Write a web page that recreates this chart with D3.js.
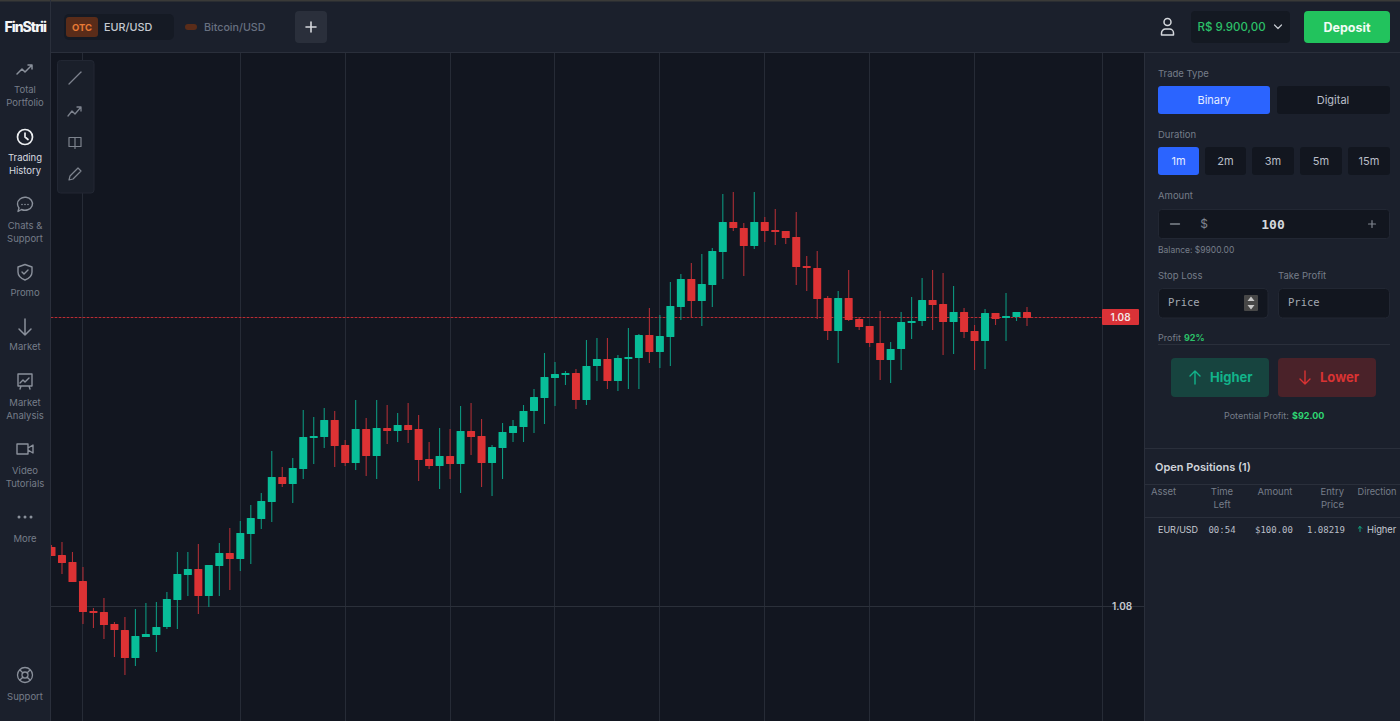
<!DOCTYPE html>
<html><head><meta charset="utf-8">
<script src="https://cdn.jsdelivr.net/npm/d3@7"></script>
<style>html,body{margin:0;padding:0;background:#121620;overflow:hidden}svg{display:block}text{font-family:Inter,"Noto Sans",sans-serif}</style>
</head><body><svg id="c" width="1400" height="721"></svg>
<script>
// Prices are given as points above 1.08000 (1 point = 0.00001)
const opens=[59,51,44,25,-5,-6,-18,-24,-52,-31,-29,-21,6,31,37,10,40,53,47,72,87,104,129,122,137,168,169,186,161,143,177,150,178,175,181,177,147,140,150,142,175,170,143,158,173,179,195,208,228,231,233,206,240,247,225,247,248,271,254,269,299,327,305,321,354,384,378,360,384,376,375,369,340,338,308,275,308,287,280,263,246,257,283,285,306,302,284,294,275,265,293,288,289,294];
const highs=[61,64,54,39,-2,8,-16,-11,-3,3,4,14,54,54,62,41,63,78,85,101,113,155,139,148,196,189,198,195,166,206,188,206,201,193,203,191,164,178,177,200,203,187,161,183,186,201,217,253,244,235,237,266,268,268,251,278,272,298,291,324,332,343,352,358,412,414,383,414,389,397,375,394,350,355,310,315,336,289,280,295,264,294,309,328,336,333,320,298,281,297,293,313,294,299];
const lows=[50,32,24,-18,-22,-33,-51,-69,-60,-31,-46,-23,-23,10,-8,-1,10,16,35,42,77,84,119,103,127,142,158,139,140,136,130,127,162,164,163,125,137,117,127,113,151,119,110,127,164,164,173,182,200,221,197,201,225,217,215,217,217,243,238,240,286,289,280,299,327,375,330,357,364,361,362,321,315,287,266,243,285,276,259,226,223,236,267,280,276,251,252,268,236,237,281,265,285,280];
const closes=[50,43,24,-6,-7,-19,-24,-52,-30,-28,-21,7,32,37,10,41,53,47,73,88,105,129,122,138,169,170,186,160,143,177,150,178,175,181,176,146,140,150,142,175,169,143,159,174,180,195,209,229,232,233,206,240,247,225,248,249,271,254,270,300,327,305,322,355,384,378,360,384,375,374,368,339,338,307,275,308,286,279,263,246,257,284,285,306,301,284,294,274,265,293,287,290,294,288];
const gridIndex=[3,18,28,38,48,58,68,78,88];
const lastPoints=289, axisTicks=[0];
const axisLabel="1.08";
const navItems=[["Total","Portfolio"],["Trading","History"],["Chats &","Support"],["Promo"],["Market"],["Market","Analysis"],["Video","Tutorials"],["More"],["Support"]];
const durations=["1m","2m","3m","5m","15m"];

const GREEN="#08bd98",RED="#dc3234",GWICK="#0c967e",RWICK="#ad2e35";
const CHART="#121620",PANEL="#1b202c",DARK="#12161f",LINE="#2a2f3b",MUTED="#767d89";
const svg=d3.select("#c");
const rect=(x0,y0,x1,y1,f,r=0,st=null)=>svg.append("rect").attr("x",x0).attr("y",y0).attr("width",x1-x0).attr("height",y1-y0).attr("rx",r).attr("fill",f).attr("stroke",st);
const txt=(x,y,s,o={})=>svg.append("text").attr("x",x).attr("y",y).attr("dy",".36em").text(s)
 .attr("font-size",o.size||10).attr("fill",o.fill||MUTED).attr("text-anchor",o.a||"start").attr("font-weight",o.w||400)
 .style("font-family",o.mono?'"DejaVu Sans Mono",monospace':null).attr("letter-spacing",o.ls||null);
const ico=(d,x,y,c,sw=1.5,s=1)=>svg.append("path").attr("d",d).attr("transform",`translate(${x},${y}) scale(${s})`).attr("fill","none").attr("stroke",c).attr("stroke-width",sw).attr("stroke-linecap","round").attr("stroke-linejoin","round");

// ---------- chart ----------
rect(0,0,1400,721,CHART);
const x=d3.scaleLinear().domain([0,opens.length-1]).range([51.5,1027]);
const y=d3.scaleLinear().domain([-100,400]).range([706,206]);
const g=svg.append("g");
g.append("g").selectAll("line").data(gridIndex).join("line")
 .attr("x1",d=>Math.floor(x(d))+.5).attr("x2",d=>Math.floor(x(d))+.5).attr("y1",53).attr("y2",721).attr("stroke","#262b36");
g.append("line").attr("x1",1102.5).attr("x2",1102.5).attr("y1",53).attr("y2",721).attr("stroke","#262b36");
g.append("line").attr("x1",51).attr("x2",1145).attr("y1",y(0)+.5).attr("y2",y(0)+.5).attr("stroke","#2b303a");
g.append("line").attr("x1",51).attr("x2",1102).attr("y1",y(lastPoints)+.5).attr("y2",y(lastPoints)+.5).attr("stroke","#e0282e").attr("stroke-opacity",.3);
g.append("line").attr("x1",51).attr("x2",1102).attr("y1",y(lastPoints)+.5).attr("y2",y(lastPoints)+.5).attr("stroke","#b92d33").attr("stroke-dasharray","2 2");
const data=opens.map((o,i)=>({i,o,h:highs[i],l:lows[i],c:closes[i]}));
const bw=8;
g.append("g").selectAll("line").data(data).join("line")
 .attr("x1",d=>x(d.i)).attr("x2",d=>x(d.i)).attr("y1",d=>y(d.h)).attr("y2",d=>y(d.l))
 .attr("stroke",d=>d.c>=d.o?GWICK:RWICK).attr("stroke-width",1.1);
g.append("g").selectAll("rect").data(data).join("rect")
 .attr("x",d=>x(d.i)-bw/2).attr("width",bw)
 .attr("y",d=>y(Math.max(d.o,d.c))).attr("height",d=>Math.max(1.8,Math.abs(y(d.o)-y(d.c))))
 .attr("rx",.6).attr("fill",d=>d.c>=d.o?GREEN:RED);
const ax=svg.append("g").attr("transform","translate(1112,0)").call(d3.axisRight(y).tickValues(axisTicks).tickSize(0).tickPadding(0).tickFormat(()=>axisLabel));
ax.select(".domain").remove();
ax.selectAll("text").attr("font-size",10).attr("font-weight",600).attr("fill","#c5c9d0").style("font-family","Inter");
rect(1102,309,1139,325,"#d93237",1);
txt(1120.5,317,axisLabel,{size:10,fill:"#f3e6e6",a:"middle",w:600});

// ---------- panels ----------
rect(0,0,1400,53,PANEL);
rect(0,0,50,721,PANEL);
rect(1145,53,1400,721,PANEL);
rect(0,0,1400,1.5,"#3a3a38");
svg.append("line").attr("x1",50).attr("x2",1400).attr("y1",52.5).attr("y2",52.5).attr("stroke",LINE);
svg.append("line").attr("x1",50.5).attr("x2",50.5).attr("y1",0).attr("y2",721).attr("stroke",LINE);
svg.append("line").attr("x1",1144.5).attr("x2",1144.5).attr("y1",53).attr("y2",721).attr("stroke",LINE);

// header
txt(4.5,27,"FinStrii",{size:14,fill:"#f4f5f7",w:800,ls:"-1"});
rect(64,14,174,40,"#151a24",5);
rect(66,17,98,37,"#5a2c19",3);
txt(82,27.5,"OTC",{size:9.5,fill:"#e97a35",a:"middle",w:700});
txt(104,27.5,"EUR/USD",{size:10.8,fill:"#c6cad1",w:500});
rect(185,24,197,30,"#5a2c19",3);
txt(204,27.5,"Bitcoin/USD",{size:10.7,fill:"#687080",w:500});
rect(295,11,327,43,"#2a2f3b",4);
ico("M-5 0H5M0 -5V5",311,27,"#d5d8dd",1.6);
ico("M-3.5 -5.5a3.5 3.5 0 1 0 7 0a3.5 3.5 0 1 0 -7 0M-6 7.5v-2a4 4 0 0 1 4 -4h4a4 4 0 0 1 4 4v2z",1167.5,27.5,"#d5d8dd",1.5);
rect(1191,11,1290,43,"#141922",4);
txt(1197.5,27,"R$ 9.900,00",{size:11.5,fill:"#2cc069",w:500});
ico("M-3.5 -2L0 1.5L3.5 -2",1278,27,"#c5c9d0",1.2);
rect(1304,11,1390,43,"#22c35d",4);
txt(1347,27,"Deposit",{size:12.5,fill:"#f2fbf5",a:"middle",w:700});

// sidebar
const navY=[[89,102],[157,170],[225,238],[292],[346],[402,415],[470,483],[538],[696]];
navItems.forEach((ls,i)=>ls.forEach((s,j)=>txt(25,navY[i][j]+.7,s,{size:9.5,fill:i==1?"#d8dbe0":MUTED,a:"middle"})));
const ic="#8a909b";
ico("M-8 5L-3 0L0 3L7 -4M3 -4H7V0",25,69,ic,1.5);
ico("M-7.5 0a7.5 7.5 0 1 0 15 0a7.5 7.5 0 1 0 -15 0M0 -4V0L3 2.5",25,137,"#eceef1",1.7);
ico("M-7.5 -1a7.5 6.5 0 1 1 4 5.5L-7 6.5L-6 3a7 7 0 0 1 -1.5 -4z",25,205,ic,1.4);
svg.selectAll(null).data([-3,0,3]).join("circle").attr("cx",d=>25+d).attr("cy",204.5).attr("r",.8).attr("fill",ic);
ico("M0 -7.5L7 -5V0C7 4 4 6.5 0 8C-4 6.5 -7 4 -7 0V-5ZM-3 0L-1 2L3 -2",25,272,ic,1.4);
ico("M0 -8V8M-6 2L0 8L6 2",25,327,ic,1.5);
ico("M-7 -7H7V5H-7ZM-5 2L-2 -1L0 1L4 -3M-4 5L-5 8M4 5L5 8",25,381,ic,1.4);
ico("M-8 -5H3V5H-8ZM3 -1L8 -4V4L3 1",25,449,ic,1.4);
svg.selectAll(null).data([-6,0,6]).join("circle").attr("cx",d=>25+d).attr("cy",517).attr("r",1.5).attr("fill",ic);
ico("M-7.5 0a7.5 7.5 0 1 0 15 0a7.5 7.5 0 1 0 -15 0M-3 0a3 3 0 1 0 6 0a3 3 0 1 0 -6 0M-5.3 -5.3L-2 -2M5.3 -5.3L2 -2M-5.3 5.3L-2 2M5.3 5.3L2 2",25,675,ic,1.3);

// tools
rect(57.5,60.5,94,193,"#1a1f2a",3,"#222733");
const ti="#7d838e";
ico("M-6 6L6 -6",75,78,ti,1.3);
ico("M-7 5L-3 0L0 3L6 -4M2 -4H6V0",75,111,ti,1.3);
ico("M-6 -5H0V4H-6ZM0 -5H6V4H0ZM0 4V6",75,142.5,ti,1.2);
ico("M-6 6L-5 2L3 -6L6 -3L-2 5Z",75,174,ti,1.2);

// trade panel
txt(1158,73.5,"Trade Type",{size:9.5});
rect(1158,86,1270,114,"#2b64ff",3);
txt(1214,100.5,"Binary",{size:11,fill:"#e4ebff",a:"middle"});
rect(1277,86,1390,114,DARK,3);
txt(1333,100.5,"Digital",{size:11,fill:"#b9bec7",a:"middle"});
txt(1158,134.5,"Duration",{size:9.5});
const dx=[[1158,1199],[1205,1246],[1252,1294],[1300,1342],[1348,1390]];
durations.forEach((s,i)=>{rect(dx[i][0],147,dx[i][1],175,i?DARK:"#2b64ff",3);
 txt((dx[i][0]+dx[i][1])/2,161.5,s,{size:11,fill:i?"#b9bec7":"#e4ebff",a:"middle"});});
txt(1158,195.5,"Amount",{size:9.5});
rect(1158.5,209.5,1389.5,238.5,DARK,3,"#222733");
ico("M-4.5 0H4.5",1175,224,"#80868f",1.3);
txt(1204,224,"$",{size:12,fill:"#80868f",a:"middle"});
txt(1273,224,"100",{size:13,fill:"#d5d8dd",a:"middle",w:700,mono:true});
ico("M-3.5 0H3.5M0 -3.5V3.5",1372,224,"#80868f",1.2);
txt(1158,249.5,"Balance: $9900.00",{size:8.5});
txt(1158,275.5,"Stop Loss",{size:9.5});
txt(1278,275.5,"Take Profit",{size:9.5});
rect(1158.5,288.5,1268,318,DARK,4,"#222733");
rect(1278.5,288.5,1389.5,318,DARK,4,"#222733");
txt(1168,302.5,"Price",{size:10.5,fill:"#a3a9b2",mono:true});
txt(1288,302.5,"Price",{size:10.5,fill:"#a3a9b2",mono:true});
rect(1244,295,1258,311,"#474747",1);
svg.append("path").attr("d","M1251 296.5l3.5 4.5h-7zM1251 309.5l3.5 -4.5h-7z").attr("fill","#c8c8c8");
txt(1158,338,"Profit",{size:9});
txt(1184,338,"92%",{size:9,fill:"#2cc069",w:700});
svg.append("line").attr("x1",1158).attr("x2",1390).attr("y1",344.5).attr("y2",344.5).attr("stroke",LINE);
rect(1171,358,1269,397,"#17443f",4);
ico("M0 6.5V-6.5M-5 -1.5L0 -6.5L5 -1.5",1195,377.5,"#12b38a",1.4);
txt(1210,377.5,"Higher",{size:13,fill:"#12b38a",w:700});
rect(1278,358,1376,397,"#4a2229",4);
ico("M0 -6.5V6.5M-5 1.5L0 6.5L5 1.5",1305,377.5,"#d93333",1.4);
txt(1320,377.5,"Lower",{size:13,fill:"#d93333",w:700});
txt(1224,416,"Potential Profit:",{size:9});
txt(1292,416,"$92.00",{size:9,fill:"#2fd673",w:700});
svg.append("line").attr("x1",1145).attr("x2",1400).attr("y1",448.5).attr("y2",448.5).attr("stroke",LINE);
txt(1155,467,"Open Positions (1)",{size:11,fill:"#d0d4da",w:600});
svg.append("line").attr("x1",1145).attr("x2",1400).attr("y1",484.5).attr("y2",484.5).attr("stroke",LINE);
svg.append("line").attr("x1",1145).attr("x2",1400).attr("y1",517.5).attr("y2",517.5).attr("stroke",LINE);
txt(1151,492,"Asset",{size:9.5});
txt(1222,492,"Time",{size:9.5,a:"middle"});txt(1222,505,"Left",{size:9.5,a:"middle"});
txt(1275,492,"Amount",{size:9.5,a:"middle"});
txt(1344,492,"Entry",{size:9.5,a:"end"});txt(1344,505,"Price",{size:9.5,a:"end"});
txt(1377,492,"Direction",{size:9.2,a:"middle"});
txt(1158,529.5,"EUR/USD",{size:9,fill:"#c6cad1"});
txt(1222,529.5,"00:54",{size:9,fill:"#b9bec7",a:"middle",mono:true});
txt(1274,529.5,"$100.00",{size:9,fill:"#b9bec7",a:"middle",mono:true});
txt(1326,529.5,"1.08219",{size:9,fill:"#b9bec7",a:"middle",mono:true});
ico("M0 2.5V-2.5M-1.8 -0.7L0 -2.5L1.8 -0.7",1360,529,"#12b38a",.9);
txt(1367,529.5,"Higher",{size:9.3,fill:"#c6cad1"});
</script></body></html>
